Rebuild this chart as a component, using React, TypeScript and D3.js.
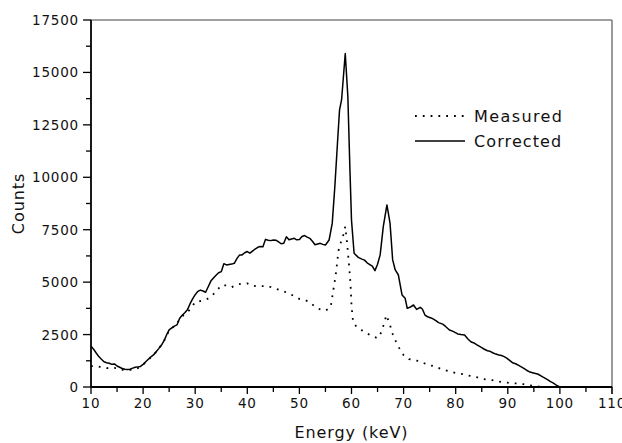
import React from "react";
import * as d3 from "d3";

// Corrected spectrum (energy keV, counts)
const correctedEnergy = [
  10, 10.5, 11, 11.5, 12, 12.5, 13, 13.5, 14, 14.5, 15, 15.5, 16, 16.5, 17, 17.5, 18, 18.5, 19, 19.5,
  20, 20.5, 21, 21.5, 22, 22.5, 23, 23.5, 24, 24.5, 25, 25.5, 26, 26.5, 27, 27.5, 28, 28.5, 29, 29.5,
  30, 30.5, 31, 31.5, 32, 32.5, 33, 33.5, 34, 34.5, 35, 35.5, 36, 36.5, 37, 37.5, 38, 38.5, 39, 39.5,
  40, 40.5, 41, 41.5, 42, 42.5, 43, 43.5, 44, 44.5, 45, 45.5, 46, 46.5, 47, 47.5, 48, 48.5, 49, 49.5,
  50, 50.5, 51, 51.5, 52, 52.5, 53, 53.5, 54, 54.5, 55, 55.7, 56.3, 56.8, 57.3, 57.7, 58.1, 58.8, 59.3, 59.7,
  60, 60.5, 61.3, 62, 62.5, 63, 63.5, 64, 64.5, 65, 65.5, 66.1, 66.8, 67.4, 67.9, 68.4, 69, 69.7, 70.3, 70.7,
  71.2, 71.9, 72.5, 73.2, 73.6, 74.1, 74.6, 75.4, 76.2, 76.7, 77.5, 78, 78.8, 79.5, 80.4, 81, 81.7, 82.3, 82.9, 83.5,
  84, 84.5, 85, 85.5, 86.1, 86.6, 87.2, 87.7, 88.3, 88.8, 89.3, 89.8, 90.4, 90.9, 91.5, 92, 92.5, 93, 93.6, 94.1,
  94.6, 95.1, 95.7, 96.2, 96.7, 97.2, 97.7, 98.2, 98.6, 99.1, 99.5, 99.9, 100.5, 101, 101.5, 102
];
const corrected = [
  1950, 1800, 1620, 1450, 1320, 1200, 1160, 1130, 1080, 1100, 1000, 940, 880, 850, 840, 845, 900, 940, 960, 980,
  1080, 1200, 1320, 1440, 1530, 1680, 1830, 1990, 2200, 2480, 2720, 2820, 2900, 2960, 3270, 3420, 3540, 3680, 3960, 4200,
  4400, 4560, 4620, 4580, 4520, 4780, 5050, 5200, 5330, 5450, 5500, 5880, 5820, 5840, 5860, 5900, 6120, 6290, 6300, 6400,
  6460, 6380, 6480, 6580, 6660, 6700, 6690, 7040, 7000, 6980, 7010, 7000, 6920, 6830, 6850, 7160, 7020, 7060, 7090, 7020,
  7030, 7180, 7220, 7150, 7090, 6950, 6780, 6820, 6850, 6800, 6770, 7010, 7800, 9550, 11600, 13200, 13700, 15900, 13850, 10350,
  7960, 6380, 6180, 6100, 6050, 5920, 5840, 5760, 5550, 5850, 6300, 7650, 8680, 7800, 6060, 5580, 5340, 4390, 4230, 3750,
  3800, 3910, 3700, 3800, 3720, 3430, 3350, 3280, 3160, 3070, 3000, 2900, 2720, 2650, 2530, 2500, 2480, 2300, 2160, 2100,
  2020, 1950, 1880, 1800, 1730, 1700, 1620, 1570, 1530, 1500, 1450, 1380, 1260, 1160, 1110, 1040, 970, 900, 800, 730,
  690, 660, 620, 560, 480, 415, 340, 260, 205, 130, 60, 15, 5, 0, 0, 0
];

// Measured spectrum
const measuredEnergy = [
  10, 11, 12, 13, 14, 15, 16, 17, 18, 19, 20, 21, 22, 23, 24, 25, 26, 27, 28, 29,
  30, 31, 32, 33, 34, 35, 36, 37, 38, 39, 40, 41, 42, 43, 44, 45, 46, 47, 48, 49,
  50, 51, 52, 53, 54, 55, 56, 56.5, 57, 57.5, 58, 58.5, 58.8, 59.1, 59.5, 59.8, 60, 60.3, 61, 62,
  63, 64, 65, 65.8, 66.7, 67.4, 68, 69, 70, 71, 72, 73, 74, 75, 76, 77, 78, 79, 80, 81,
  82, 83, 84, 85, 86, 87, 88, 89, 90, 91, 92, 93, 94, 95, 96, 97, 98, 99, 100
];
const measured = [
  1000, 980, 950, 900, 920, 900, 820, 810, 820, 900, 1060, 1300, 1520, 1820, 2180, 2700, 2900, 3200, 3500, 3680,
  4050, 4100, 4150, 4300, 4550, 4850, 4850, 4760, 4880, 4930, 4940, 4830, 4800, 4810, 4810, 4720, 4640, 4560, 4460, 4330,
  4200, 4150, 4050, 3820, 3700, 3640, 3800, 4600, 5400, 6500, 6930, 7300, 7650, 7000, 5900, 4950, 3900, 3100, 2850, 2700,
  2550, 2420, 2330, 2640, 3430, 2950, 2450, 1920, 1520, 1330, 1280, 1240, 1130, 1040, 980, 880, 800, 720, 670, 630,
  575, 520, 470, 390, 350, 330, 270, 230, 205, 185, 160, 135, 90, 45, 20, 10, 0, 0, 0
];

const xTicks = [10, 20, 30, 40, 50, 60, 70, 80, 90, 100, 110];
const yTicks = [0, 2500, 5000, 7500, 10000, 12500, 15000, 17500];
const legendLabels = ["Measured", "Corrected"];

const W = 622, H = 443;
const M = { left: 91, right: 612, top: 20, bottom: 387 };
const FONT = "'DejaVu Sans', Verdana, sans-serif";
const INK = "#111";

export default function App() {
  const x = d3.scaleLinear().domain([10, 110]).range([M.left, M.right]);
  const y = d3.scaleLinear().domain([0, 17500]).range([M.bottom, M.top]);
  const line = d3.line<[number, number]>().x(d => x(d[0])).y(d => y(d[1]));
  const corrPts = correctedEnergy.map((e, i) => [e, corrected[i]] as [number, number]);
  const measPts = measuredEnergy.map((e, i) => [e, measured[i]] as [number, number]);
  const xMinor = d3.range(15, 110, 10);
  const yMinor = d3.range(1250, 17500, 2500);

  return (
    <svg width={W} height={H} style={{ position: "absolute", left: 0, top: 0, background: "#fff" }}>
      <rect width={W} height={H} fill="#fff" />
      {/* frame top & right */}
      <line x1={M.left} x2={M.right} y1={M.top} y2={M.top} stroke="#808080" strokeWidth={1.6} />
      <line x1={M.right} x2={M.right} y1={M.top} y2={M.bottom + 7} stroke="#808080" strokeWidth={1.6} />
      {/* data */}
      <path d={line(measPts) || ""} fill="none" stroke="#000" strokeWidth={1.8} strokeDasharray="1.8,6" />
      <path d={line(corrPts) || ""} fill="none" stroke="#000" strokeWidth={1.5} strokeLinejoin="round" />
      {/* axes */}
      <line x1={M.left} x2={M.left} y1={M.top} y2={M.bottom} stroke="#000" strokeWidth={1.8} />
      <line x1={M.left} x2={M.right} y1={M.bottom} y2={M.bottom} stroke="#000" strokeWidth={1.8} />
      {xTicks.map(t => (
        <g key={"xt" + t}>
          <line x1={x(t)} x2={x(t)} y1={M.bottom} y2={M.bottom + 7} stroke="#000" strokeWidth={1.3} />
          <text x={x(t)} y={M.bottom + 21} textAnchor="middle" fontFamily={FONT} fontSize={13.5} letterSpacing={0.8} fill={INK}>{t}</text>
        </g>
      ))}
      {xMinor.map(t => (
        <line key={"xm" + t} x1={x(t)} x2={x(t)} y1={M.bottom} y2={M.bottom + 5} stroke="#000" strokeWidth={1.3} />
      ))}
      {yTicks.map(t => (
        <g key={"yt" + t}>
          <line x1={M.left - 8} x2={M.left} y1={y(t)} y2={y(t)} stroke="#000" strokeWidth={1.3} />
          <text x={M.left - 12} y={y(t) + 5} textAnchor="end" fontFamily={FONT} fontSize={13.5} letterSpacing={0.8} fill={INK}>{t}</text>
        </g>
      ))}
      {yMinor.map(t => (
        <line key={"ym" + t} x1={M.left - 5} x2={M.left} y1={y(t)} y2={y(t)} stroke="#000" strokeWidth={1.3} />
      ))}
      {/* axis titles */}
      <text x={(M.left + M.right) / 2} y={438} textAnchor="middle" fontFamily={FONT} fontSize={16} letterSpacing={0.9} fill={INK}>Energy (keV)</text>
      <text transform={`translate(24,${(M.top + M.bottom) / 2}) rotate(-90)`} textAnchor="middle" fontFamily={FONT} fontSize={16} letterSpacing={0.9} fill={INK}>Counts</text>
      {/* legend */}
      <line x1={415} x2={465} y1={116} y2={116} stroke="#000" strokeWidth={1.8} strokeDasharray="1.8,6" />
      <line x1={415} x2={465} y1={141} y2={141} stroke="#000" strokeWidth={1.5} />
      <text x={474} y={122} fontFamily={FONT} fontSize={16} letterSpacing={1.4} fill={INK}>{legendLabels[0]}</text>
      <text x={474} y={147} fontFamily={FONT} fontSize={16} letterSpacing={1.1} fill={INK}>{legendLabels[1]}</text>
    </svg>
  );
}
